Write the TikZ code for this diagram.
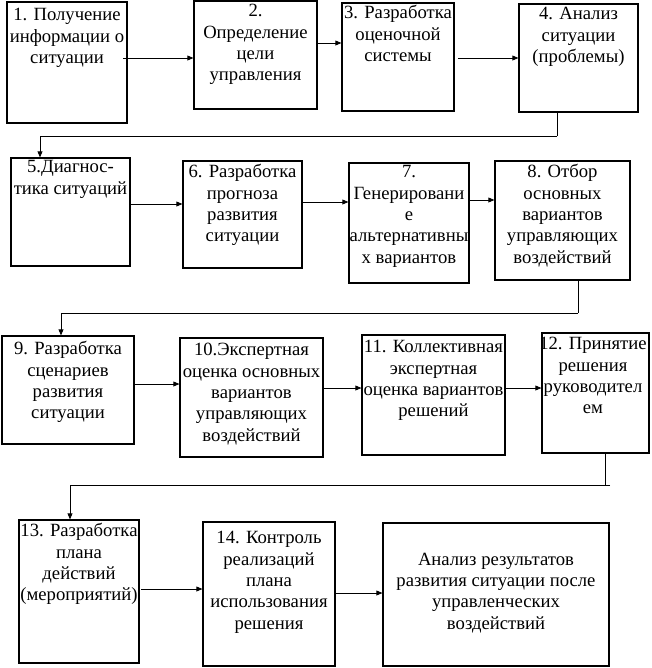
\documentclass[tikz,border=0pt]{standalone}
\usepackage{fontspec}
\setmainfont{Liberation Serif}
\usetikzlibrary{arrows.meta,fit,calc}
\begin{document}
\begin{tikzpicture}[x=0.75pt,y=-0.75pt,
  box/.style={draw, line width=0.8pt, inner sep=0pt},
  lbl/.style={anchor=north, align=center, inner sep=0pt, font=\fontsize{14}{16}\selectfont},
  arr/.style={line width=0.6pt, -{Triangle[length=4.5pt,width=3.6pt]}},
  ln/.style={line width=0.6pt}]
\useasboundingbox (0,0) rectangle (651,668);
% boxes
\node[box, fit={(7,2) (127,123)}] (b1) {};
\node[box, fit={(194,1) (317,109)}] (b2) {};
\node[box, fit={(342,3) (454,111)}] (b3) {};
\node[box, fit={(519,4) (638,112)}] (b4) {};
\node[box, fit={(11,158) (130,266)}] (b5) {};
\node[box, fit={(183,161) (302,268)}] (b6) {};
\node[box, fit={(349,163) (469,283)}] (b7) {};
\node[box, fit={(495,161) (630,280)}] (b8) {};
\node[box, fit={(2,336) (134,444)}] (b9) {};
\node[box, fit={(180,338) (323,457)}] (b10) {};
\node[box, fit={(362,335) (505,455)}] (b11) {};
\node[box, fit={(542,333) (649,453)}] (b12) {};
\node[box, fit={(19,520) (139,663)}] (b13) {};
\node[box, fit={(203,522) (335,666)}] (b14) {};
\node[box, fit={(383,523) (609,666)}] (b15) {};
% labels
\node[lbl] (t1) at ($(b1.north)+(0,4.1)$) {\strut 1. Получение\\информации о\\ситуации};
\node[lbl] (t2) at ($(b2.north)+(0,1.1)$) {\strut 2.\\Определение\\цели\\управления};
\node[lbl] (t3) at ($(b3.north)+(0,1.1)$) {\strut 3. Разработка\\оценочной\\системы};
\node[lbl] (t4) at ($(b4.north)+(0,1.1)$) {\strut 4. Анализ\\ситуации\\(проблемы)};
\node[lbl] (t5) at ($(b5.north)+(0,0.1)$) {\strut 5.Диагнос-\\тика ситуаций};
\node[lbl] (t6) at ($(b6.north)+(0,2.1)$) {\strut 6. Разработка\\прогноза\\развития\\ситуации};
\node[lbl] (t7) at ($(b7.north)+(0,0.1)$) {\strut 7.\\Генерировани\\е\\альтернативны\\х вариантов};
\node[lbl] (t8) at ($(b8.north)+(0,2.1)$) {\strut 8. Отбор\\основных\\вариантов\\управляющих\\воздействий};
\node[lbl] (t9) at ($(b9.north)+(0,4.1)$) {\strut 9. Разработка\\сценариев\\развития\\ситуации};
\node[lbl] (t10) at ($(b10.north)+(0,3.1)$) {\strut 10.Экспертная\\оценка основных\\вариантов\\управляющих\\воздействий};
\node[lbl] (t11) at ($(b11.north)+(0,3.1)$) {\strut 11. Коллективная\\экспертная\\оценка вариантов\\решений};
\node[lbl] (t12) at ($(b12.north)+(-2.5,2.1)$) {\strut 12. Принятие\\решения\\руководител\\ем};
\node[lbl] (t13) at ($(b13.north)+(0,2.1)$) {\strut 13. Разработка\\плана\\действий\\(мероприятий)};
\node[lbl] (t14) at ($(b14.north)+(0,7.1)$) {\strut 14. Контроль\\реализаций\\плана\\использования\\решения};
\node[lbl] (t15) at ($(b15.north)+(0,27.5)$) {\strut Анализ результатов\\развития ситуации после\\управленческих\\воздействий};
% connector coordinates
\coordinate (s12) at (123,58);
\coordinate (y23) at (0,43);
\coordinate (s34) at (458,58);
\coordinate (c4a) at (557,136);
\coordinate (c4b) at (40,136);
\coordinate (y56) at (0,204);
\coordinate (y67) at (0,202);
\coordinate (y78) at (0,200);
\coordinate (c8a) at (578,313);
\coordinate (c8b) at (61,313);
\coordinate (y910) at (0,384);
\coordinate (y1011) at (0,388);
\coordinate (y1112) at (0,388);
\coordinate (c12a) at (605,485);
\coordinate (c12e) at (610,485);
\coordinate (c12b) at (70,485);
\coordinate (s1314) at (141,589);
\coordinate (y1415) at (0,593);
% connectors
\draw[arr] (s12) -- (b2.west |- s12);
\draw[arr] (b2.east |- y23) -- (b3.west |- y23);
\draw[arr] (s34) -- (b4.west |- s34);
\draw[ln] (b4.south -| c4a) -- (c4a);
\draw[arr] (c4a) -- (c4b) -- (b5.north -| c4b);
\draw[arr] (b5.east |- y56) -- (b6.west |- y56);
\draw[arr] (b6.east |- y67) -- (b7.west |- y67);
\draw[arr] (b7.east |- y78) -- (b8.west |- y78);
\draw[ln] (b8.south -| c8a) -- (c8a);
\draw[arr] (c8a) -- (c8b) -- (b9.north -| c8b);
\draw[arr] (b9.east |- y910) -- (b10.west |- y910);
\draw[arr] (b10.east |- y1011) -- (b11.west |- y1011);
\draw[arr] (b11.east |- y1112) -- (b12.west |- y1112);
\draw[ln] (b12.south -| c12a) -- (c12a);
\draw[arr] (c12e) -- (c12b) -- (b13.north -| c12b);
\draw[arr] (s1314) -- (b14.west |- s1314);
\draw[arr] (b14.east |- y1415) -- (b15.west |- y1415);
\end{tikzpicture}
\end{document}
